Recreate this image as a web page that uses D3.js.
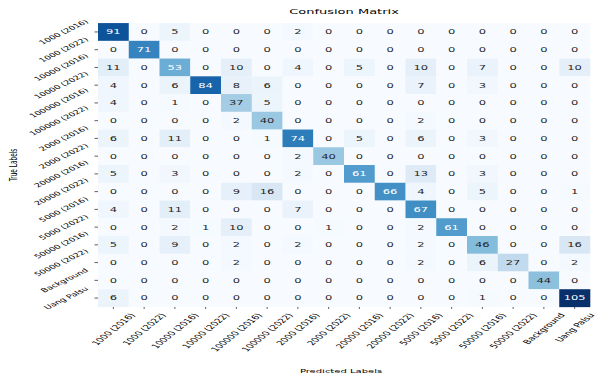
<!DOCTYPE html>
<html><head><meta charset="utf-8">
<script src="https://cdn.jsdelivr.net/npm/d3@7"></script>
<style>body{margin:0;background:#fff}svg{display:block}</style>
</head><body>
<script>
const labels = ["1000 (2016)","1000 (2022)","10000 (2016)","10000 (2022)","100000 (2016)","100000 (2022)",
  "2000 (2016)","2000 (2022)","20000 (2016)","20000 (2022)","5000 (2016)","5000 (2022)",
  "50000 (2016)","50000 (2022)","Background","Uang Palsu"];
const counts = [
  [91,0,5,0,0,0,2,0,0,0,0,0,0,0,0,0],
  [0,71,0,0,0,0,0,0,0,0,0,0,0,0,0,0],
  [11,0,53,0,10,0,4,0,5,0,10,0,7,0,0,10],
  [4,0,6,84,8,6,0,0,0,0,7,0,3,0,0,0],
  [4,0,1,0,37,5,0,0,0,0,0,0,0,0,0,0],
  [0,0,0,0,2,40,0,0,0,0,2,0,0,0,0,0],
  [6,0,11,0,0,1,74,0,5,0,6,0,3,0,0,0],
  [0,0,0,0,0,0,2,40,0,0,0,0,0,0,0,0],
  [5,0,3,0,0,0,2,0,61,0,13,0,3,0,0,0],
  [0,0,0,0,9,16,0,0,0,66,4,0,5,0,0,1],
  [4,0,11,0,0,0,7,0,0,0,67,0,0,0,0,0],
  [0,0,2,1,10,0,0,1,0,0,2,61,0,0,0,0],
  [5,0,9,0,2,0,2,0,0,0,2,0,46,0,0,16],
  [0,0,0,0,2,0,0,0,0,0,2,0,6,27,0,2],
  [0,0,0,0,0,0,0,0,0,0,0,0,0,0,44,0],
  [6,0,0,0,0,0,0,0,0,0,0,0,1,0,0,105]
];
const titleText = "Confusion Matrix", xTitle = "Predicted Labels", yTitle = "True Labels";

(function () {
const W = 597, H = 380, K = 0.577, IH = H / K;
const svg = d3.select("body").append("svg")
  .attr("width", W).attr("height", H)
  .attr("viewBox", `0 0 ${W} ${IH}`).attr("preserveAspectRatio", "none")
  .style("font-family", "'DejaVu Sans', sans-serif");

const mLeft = 98, mRight = 590, mTop = 40, mBottom = 532;
const idx = d3.range(labels.length);
const x = d3.scaleBand().domain(idx).range([mLeft, mRight]);
const y = d3.scaleBand().domain(idx).range([mTop, mBottom]);
const vmax = d3.max(counts.flat());
const color = d3.scaleSequential(d3.interpolateBlues).domain([0, vmax]);

function lum(c) {
  const r = d3.rgb(c);
  const f = v => { v /= 255; return v <= 0.03928 ? v / 12.92 : Math.pow((v + 0.055) / 1.055, 2.4); };
  return 0.2126 * f(r.r) + 0.7152 * f(r.g) + 0.0722 * f(r.b);
}

const cells = [];
counts.forEach((row, i) => row.forEach((v, j) => cells.push({i, j, v})));

svg.append("g").selectAll("rect").data(cells).join("rect")
  .attr("x", d => x(d.j)).attr("y", d => y(d.i))
  .attr("width", x.bandwidth() + 0.3).attr("height", y.bandwidth() + 0.3)
  .attr("fill", d => color(d.v));

svg.append("g").selectAll("text").data(cells).join("text")
  .attr("x", d => x(d.j) + x.bandwidth() / 2)
  .attr("y", d => y(d.i) + y.bandwidth() / 2)
  .attr("text-anchor", "middle").attr("dy", "0.36em")
  .attr("font-size", 11.5)
  .attr("fill", d => lum(color(d.v)) > 0.408 ? "#262626" : "#ffffff")
  .text(d => d.v);

const fsy = 9.8, fsx = 10.6;
const ay = 40 * Math.PI / 180, ax = 54 * Math.PI / 180;
const gy = svg.append("g").attr("transform", `translate(${mLeft},0)`)
  .call(d3.axisLeft(y).tickSize(3.5).tickPadding(3.5).tickFormat(i => labels[i]));
gy.select(".domain").remove();
gy.selectAll(".tick line").attr("stroke", "#000").attr("stroke-width", 0.8);
gy.selectAll(".tick text").attr("font-size", fsy).attr("font-family", "'DejaVu Sans', sans-serif")
  .attr("fill", "#000").attr("text-anchor", "end").attr("x", null).attr("dy", "0.35em")
  .each(function() {
    const L = this.getComputedTextLength();
    const px = -8 - fsy / 2 * Math.sin(ay), py = -L * Math.sin(ay) / 2;
    d3.select(this).attr("transform", `translate(${px},${py}) rotate(${-ay * 180 / Math.PI})`);
  });
const gx = svg.append("g").attr("transform", `translate(0,${mBottom})`)
  .call(d3.axisBottom(x).tickSize(3.5).tickPadding(3.5).tickFormat(i => labels[i]));
gx.select(".domain").remove();
gx.selectAll(".tick line").attr("stroke", "#000").attr("stroke-width", 0.8);
gx.selectAll(".tick text").attr("font-size", fsx).attr("font-family", "'DejaVu Sans', sans-serif")
  .attr("fill", "#000").attr("text-anchor", "end").attr("y", null).attr("dy", "0.35em")
  .each(function() {
    const L = this.getComputedTextLength();
    const px = L * Math.cos(ax) / 2, py = 9 + fsx / 2 * Math.cos(ax);
    d3.select(this).attr("transform", `translate(${px},${py}) rotate(${-ax * 180 / Math.PI})`);
  });

svg.append("text").attr("x", (mLeft + mRight) / 2).attr("y", 25)
  .attr("text-anchor", "middle").attr("font-size", 13).attr("fill", "#000").text(titleText);
svg.append("text").attr("x", (mLeft + mRight) / 2 - 3).attr("y", 646)
  .attr("text-anchor", "middle").attr("font-size", 10).attr("fill", "#000").text(xTitle);
svg.append("text").attr("transform", `translate(17,${(mTop + mBottom) / 2}) rotate(-90)`)
  .attr("text-anchor", "middle").attr("font-size", 10).attr("fill", "#000").text(yTitle);
})();
</script>
</body></html>
